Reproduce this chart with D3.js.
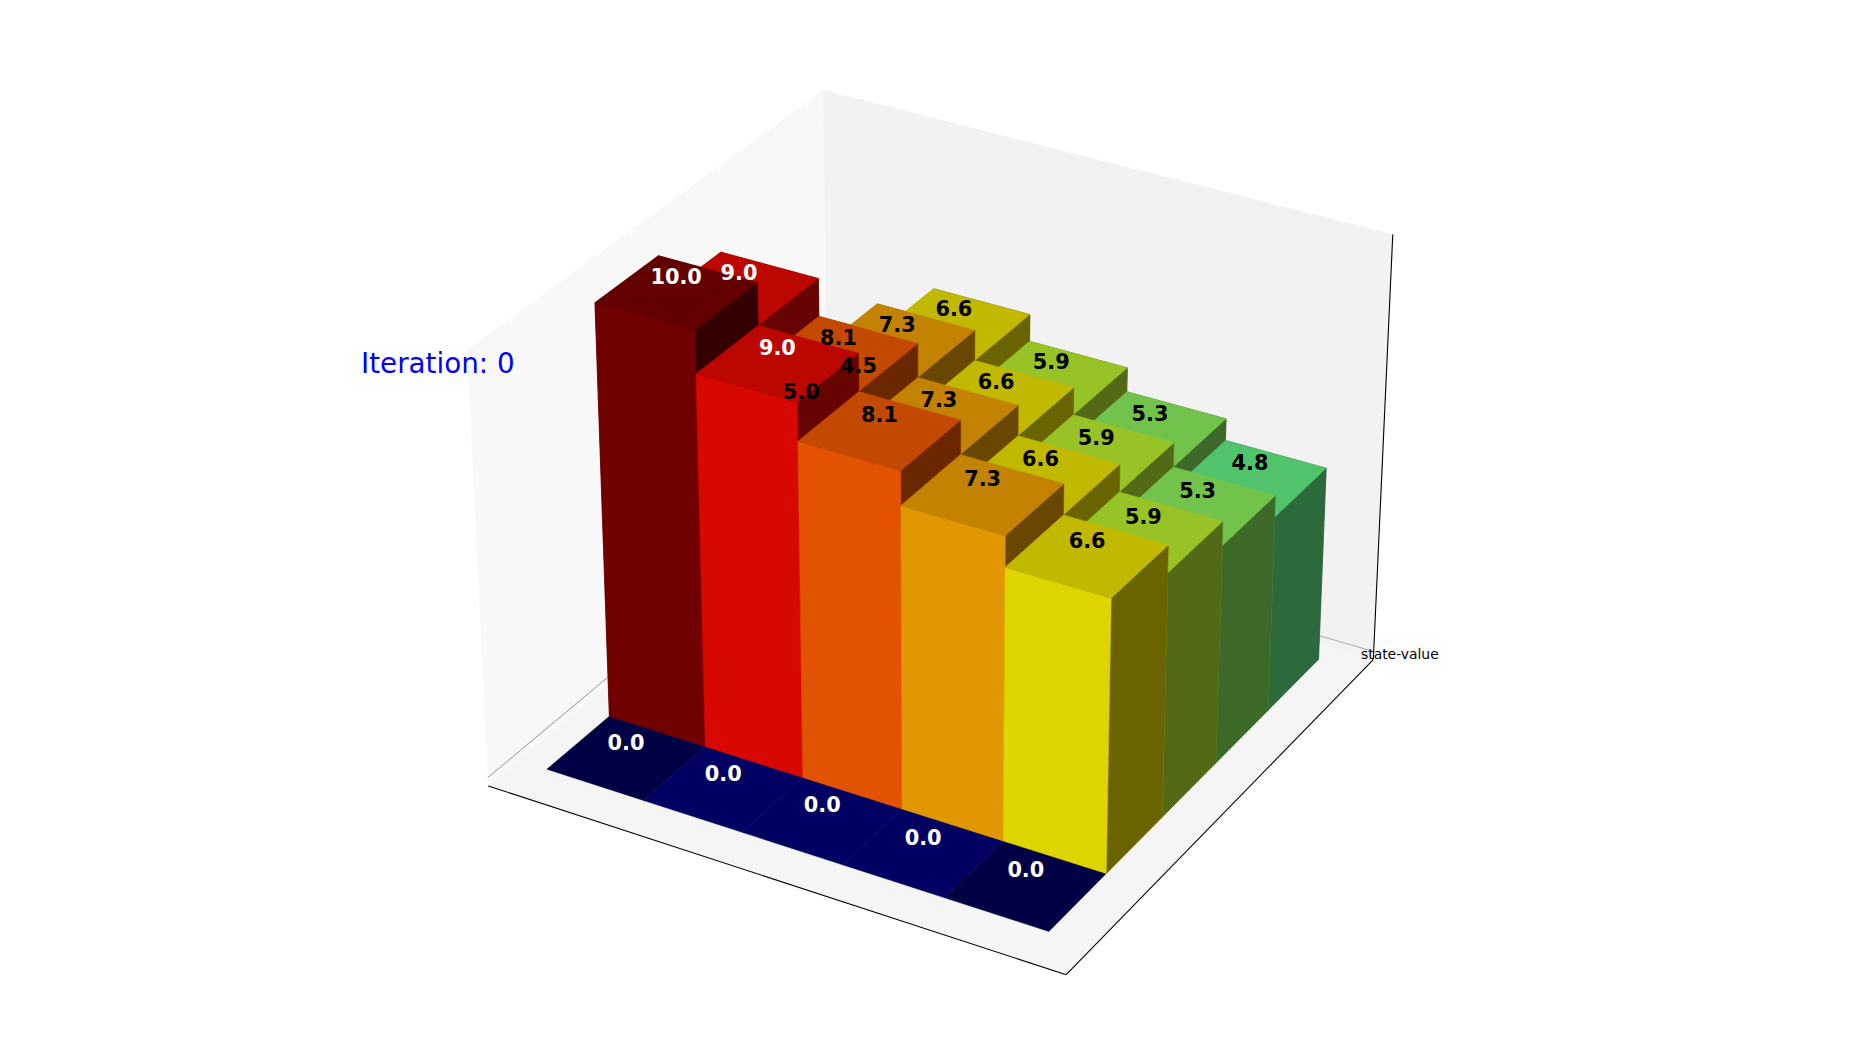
<!DOCTYPE html>
<html><head><meta charset="utf-8">
<script src="https://d3js.org/d3.v7.min.js"></script>
<style>html,body{margin:0;padding:0;background:#fff;overflow:hidden}svg{display:block}
text{font-family:"DejaVu Sans",sans-serif}</style></head>
<body><svg id="chart" width="1850" height="1050"></svg>
<script>
// ---- data ----
const columns = [0, 1, 2, 3, 4];
const rows = [0, 1, 2, 3, 4];
const row0 = [0, 0, 0, 0, 0];
const row1 = [10, 9, 8.1, 7.29, 6.56];
const row2 = [9, 8.1, 7.29, 6.56, 5.9];
const row3 = [5, 7.29, 6.56, 5.9, 5.31];
const row4 = [4.5, 6.56, 5.9, 5.31, 4.78];
const stateValues = [row0, row1, row2, row3, row4];
const zTickValues = [0];
const zTickLabels = ["state-value"];
const iterationLabel = "Iteration: 0";
// which coincident face of a zero-height tile ends up visible
const zeroTileFace = ["bottom", "top", "top", "top", "bottom"];
// jet colormap stops
const jetRed = [[0,0],[.35,0],[.66,1],[.89,1],[1,.5]];
const jetGreen = [[0,0],[.125,0],[.375,1],[.64,1],[.91,0],[1,0]];
const jetBlue = [[0,.5],[.11,1],[.34,1],[.65,0],[1,0]];

// ---- scales ----
const boxAspect = [1.19, 1.19, 0.893];
const x = d3.scaleLinear().domain([-0.37, 5.37]).range([0, boxAspect[0]]);
const y = d3.scaleLinear().domain([-0.37, 5.37]).range([0, boxAspect[1]]);
const z = d3.scaleLinear().domain([-0.208, 10.208]).range([0, boxAspect[2]]);
const channel = s => d3.scaleLinear().domain(s.map(d => d[0])).range(s.map(d => d[1])).clamp(true);
const jetR = channel(jetRed), jetG = channel(jetGreen), jetB = channel(jetBlue);
const colorNorm = d3.scaleLinear().domain([0, 10]).range([0, 1]);
const sx = d3.scaleLinear().domain([-0.095, 0.09]).range([925 - 514.75, 925 + 514.75]);
const sy = d3.scaleLinear().domain([-0.095, 0.09]).range([525 + 514.75, 525 - 514.75]);

// ---- camera (elev 30, azim -60, dist 10) ----
const elev = 30 * Math.PI / 180, azim = -60 * Math.PI / 180, dist = 10;
const W = [Math.cos(elev) * Math.cos(azim), Math.cos(elev) * Math.sin(azim), Math.sin(elev)];
const uLen = Math.hypot(W[0], W[1]);
const U = [-W[1] / uLen, W[0] / uLen, 0];
const Vv = [W[1]*U[2]-W[2]*U[1], W[2]*U[0]-W[0]*U[2], W[0]*U[1]-W[1]*U[0]];
const dot = (a, b) => a[0]*b[0] + a[1]*b[1] + a[2]*b[2];
function project(px, py, pz) {
  const q = [x(px) - boxAspect[0]/2, y(py) - boxAspect[1]/2, z(pz) - boxAspect[2]/2];
  const zv = dot(q, W) - dist;
  return { sx: sx(dot(q, U) / -zv), sy: sy(dot(q, Vv) / -zv), depth: dist / zv };
}
const lineGen = d3.line();
const svg = d3.select("#chart");
const xD = x.domain(), yD = y.domain(), zD = z.domain();
const P = (a, b, c) => { const p = project(a, b, c); return [p.sx, p.sy]; };

// ---- panes ----
const panes = [
  { fill: "rgba(242,242,242,0.5)", pts: [[xD[0],yD[0],zD[0]],[xD[0],yD[1],zD[0]],[xD[0],yD[1],zD[1]],[xD[0],yD[0],zD[1]]] },
  { fill: "rgba(230,230,230,0.5)", pts: [[xD[0],yD[1],zD[0]],[xD[1],yD[1],zD[0]],[xD[1],yD[1],zD[1]],[xD[0],yD[1],zD[1]]] },
  { fill: "rgba(236,236,236,0.5)", pts: [[xD[0],yD[0],zD[0]],[xD[1],yD[0],zD[0]],[xD[1],yD[1],zD[0]],[xD[0],yD[1],zD[0]]] }
];
svg.append("g").selectAll("path").data(panes).join("path")
  .attr("d", d => lineGen(d.pts.map(p => P(...p))) + "Z")
  .attr("fill", d => d.fill);

// ---- z gridline ----
svg.append("g").selectAll("path").data(zTickValues).join("path")
  .attr("d", t => lineGen([P(xD[0],yD[0],t), P(xD[0],yD[1],t), P(xD[1],yD[1],t)]))
  .attr("fill", "none").attr("stroke", "#b0b0b0").attr("stroke-width", 1.1);

// ---- axis lines ----
const axisLines = [
  [[xD[0],yD[0],zD[0]],[xD[1],yD[0],zD[0]]],
  [[xD[1],yD[0],zD[0]],[xD[1],yD[1],zD[0]]],
  [[xD[1],yD[1],zD[0]],[xD[1],yD[1],zD[1]]]
];
svg.append("g").selectAll("path").data(axisLines).join("path")
  .attr("d", d => lineGen(d.map(p => P(...p))))
  .attr("fill", "none").attr("stroke", "#000").attr("stroke-width", 1.1);

// ---- bars: six shaded faces each, painter sorted by mean depth ----
const light = [-2/3, -2/3, 1/3];
const shadeOf = n => 0.3 + 0.7 * (dot(n, light) + 1) / 2;
const faces = [];
rows.forEach(r => columns.forEach(c => {
  const v = stateValues[r][c];
  const x0 = c, x1 = c + 1, y0 = r, y1 = r + 1, z0 = 0, z1 = v;
  const t = colorNorm(v);
  const col = [jetR(t), jetG(t), jetB(t)];
  const defs = [
    { name: "bottom", n: [0,0,-1], pts: [[x0,y0,z0],[x1,y0,z0],[x1,y1,z0],[x0,y1,z0]] },
    { name: "top", n: [0,0,1], pts: [[x0,y0,z1],[x1,y0,z1],[x1,y1,z1],[x0,y1,z1]] },
    { name: "front", n: [0,-1,0], pts: [[x0,y0,z0],[x1,y0,z0],[x1,y0,z1],[x0,y0,z1]] },
    { name: "back", n: [0,1,0], pts: [[x0,y1,z0],[x1,y1,z0],[x1,y1,z1],[x0,y1,z1]] },
    { name: "left", n: [-1,0,0], pts: [[x0,y0,z0],[x0,y1,z0],[x0,y1,z1],[x0,y0,z1]] },
    { name: "right", n: [1,0,0], pts: [[x1,y0,z0],[x1,y1,z0],[x1,y1,z1],[x1,y0,z1]] }
  ];
  defs.forEach(f => {
    if (v === 0 && f.name !== zeroTileFace[c]) return;
    const pr = f.pts.map(p => project(...p));
    const s = shadeOf(f.n);
    faces.push({
      depth: d3.mean(pr, p => p.depth),
      d: lineGen(pr.map(p => [p.sx, p.sy])) + "Z",
      fill: d3.rgb(col[0]*s*255, col[1]*s*255, col[2]*s*255).formatHex()
    });
  });
}));
faces.sort((a, b) => b.depth - a.depth);
svg.append("g").selectAll("path").data(faces).join("path")
  .attr("d", d => d.d).attr("fill", d => d.fill)
  .attr("stroke", d => d.fill).attr("stroke-width", 0.5);

// ---- value labels ----
const labels = rows.flatMap(r => columns.map(c => ({ r, c, v: stateValues[r][c] })));
svg.append("g").selectAll("text").data(labels).join("text")
  .attr("x", d => project(d.c + 0.5, d.r + 0.5, d.v + 0.2).sx)
  .attr("y", d => project(d.c + 0.5, d.r + 0.5, d.v + 0.2).sy)
  .attr("text-anchor", "middle")
  .attr("font-size", 20.83).attr("font-weight", "bold")
  .attr("fill", d => (d.v === 0 || d.v >= 9) ? "#fff" : "#000")
  .text(d => d.v.toFixed(1));

// ---- tick label and annotation ----
svg.append("g").selectAll("text").data(zTickValues).join("text")
  .attr("x", 1361)
  .attr("y", (d, i) => P(xD[1], yD[1], d)[1] + 7.5)
  .attr("font-size", 13.89).attr("fill", "#000")
  .text((d, i) => zTickLabels[i]);
svg.append("text").attr("x", 361).attr("y", 372.5)
  .attr("font-size", 27.78).attr("fill", "#0000ff").text(iterationLabel);
</script></body></html>
